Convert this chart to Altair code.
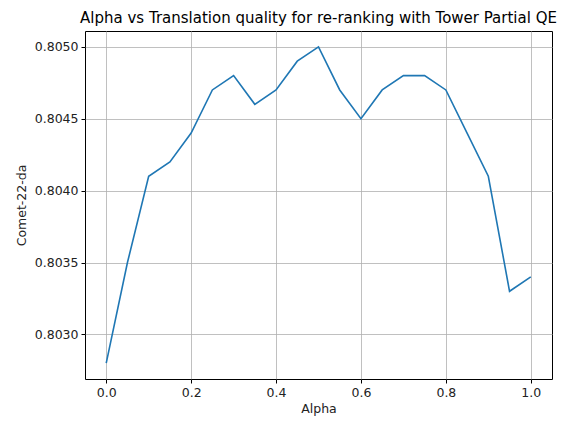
import altair as alt
import pandas as pd

alphas = [0.0, 0.05, 0.1, 0.15, 0.2, 0.25, 0.3, 0.35, 0.4, 0.45, 0.5,
          0.55, 0.6, 0.65, 0.7, 0.75, 0.8, 0.85, 0.9, 0.95, 1.0]
scores = [0.8028, 0.8035, 0.8041, 0.8042, 0.8044, 0.8047, 0.8048, 0.8046, 0.8047, 0.8049, 0.8050,
          0.8047, 0.8045, 0.8047, 0.8048, 0.8048, 0.8047, 0.8044, 0.8041, 0.8033, 0.8034]
x_ticks = [0.0, 0.2, 0.4, 0.6, 0.8, 1.0]
y_ticks = [0.8030, 0.8035, 0.8040, 0.8045, 0.8050]

df = pd.DataFrame({"Alpha": alphas, "Comet": scores})

font = "DejaVu Sans"

chart = alt.Chart(df).mark_line(color="#1f77b4", strokeWidth=1.6, clip=True).encode(
    x=alt.X("Alpha:Q",
            scale=alt.Scale(domain=[-0.05, 1.05], nice=False, zero=False),
            axis=alt.Axis(values=x_ticks, format=".1f", title="Alpha")),
    y=alt.Y("Comet:Q",
            scale=alt.Scale(domain=[0.80269, 0.80511], nice=False, zero=False),
            axis=alt.Axis(values=y_ticks, format=".4f", title="Comet-22-da")),
).properties(
    width=467,
    height=348,
    title=alt.Title("Alpha vs Translation quality for re-ranking with Tower Partial QE",
                    font=font, fontSize=15, fontWeight="normal", color="#000000", offset=5),
    autosize=alt.AutoSizeParams(type="none"),
    padding={"left": 77, "top": 23, "right": 6, "bottom": 40},
).configure_view(
    stroke="#000000", strokeWidth=1
).configure_axis(
    labelFont=font, labelFontSize=12.5, labelColor="#222222",
    titleFont=font, titleFontSize=12.5, titleFontWeight="normal", titleColor="#222222",
    grid=True, gridColor="#b0b0b0", gridWidth=0.8,
    domain=False, tickColor="#000000", tickSize=4, tickWidth=1, labelPadding=3,
).configure_axisX(titlePadding=4).configure_axisY(titlePadding=6)

chart.save("out.html", embed_options={"renderer": "svg", "actions": False})
